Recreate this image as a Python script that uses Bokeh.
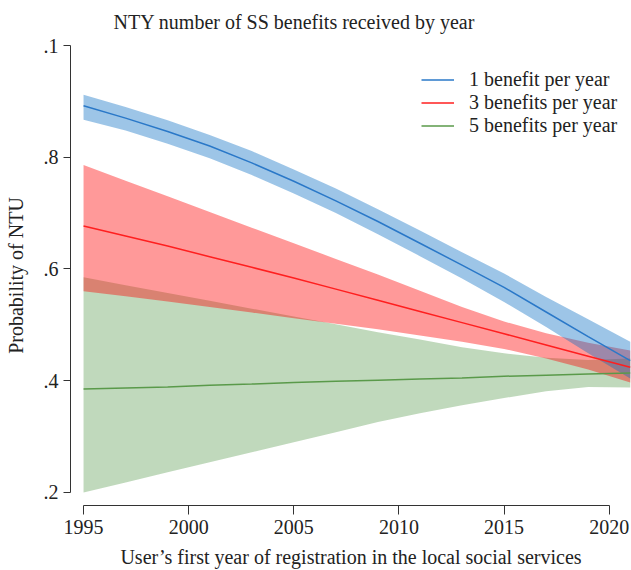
from bokeh.plotting import figure
from bokeh.models import Range1d, FixedTicker, Legend, LegendItem
from bokeh.embed import file_html
from bokeh.resources import INLINE

# Predicted probability of NTU by first year of registration, with 95% bands
years = [1995, 1997, 1999, 2001, 2003, 2005, 2007, 2009, 2011, 2013, 2015, 2017, 2019, 2021]

b1_mid = [0.892, 0.870, 0.846, 0.820, 0.790, 0.757, 0.722, 0.685, 0.646, 0.607, 0.567, 0.523, 0.479, 0.436]
b1_hi = [0.912, 0.890, 0.866, 0.840, 0.811, 0.778, 0.744, 0.707, 0.669, 0.630, 0.592, 0.550, 0.510, 0.470]
b1_lo = [0.867, 0.848, 0.824, 0.798, 0.768, 0.735, 0.700, 0.662, 0.623, 0.583, 0.541, 0.496, 0.449, 0.404]

b3_mid = [0.677, 0.659, 0.641, 0.622, 0.603, 0.584, 0.564, 0.544, 0.524, 0.504, 0.484, 0.464, 0.444, 0.424]
b3_hi = [0.786, 0.758, 0.730, 0.702, 0.674, 0.646, 0.618, 0.590, 0.561, 0.532, 0.506, 0.485, 0.468, 0.454]
b3_lo = [0.560, 0.551, 0.542, 0.532, 0.522, 0.512, 0.502, 0.492, 0.481, 0.470, 0.457, 0.440, 0.420, 0.397]

b5_mid = [0.385, 0.387, 0.389, 0.392, 0.394, 0.397, 0.399, 0.401, 0.403, 0.405, 0.408, 0.410, 0.412, 0.414]
b5_hi = [0.585, 0.571, 0.557, 0.543, 0.529, 0.515, 0.501, 0.487, 0.474, 0.460, 0.449, 0.441, 0.437, 0.440]
b5_lo = [0.200, 0.218, 0.236, 0.254, 0.272, 0.290, 0.308, 0.326, 0.342, 0.356, 0.369, 0.381, 0.389, 0.388]

series_labels = ["1 benefit per year", "3 benefits per year", "5 benefits per year"]
xticks = [1995, 2000, 2005, 2010, 2015, 2020]
yticks = [0.2, 0.4, 0.6, 0.8, 1.0]
ytick_labels = [".2", ".4", ".6", ".8", ".1"]

FONT = "Liberation Serif"
SIZE = "20px"
INK = "#222222"
BLUE, RED, GREEN = "#2a78c8", "#ff1f1f", "#5a9a4a"

p = figure(width=631, height=570, output_backend="svg", toolbar_location=None,
           x_range=Range1d(1994.38, 2021.06), y_range=Range1d(0.1767, 1.0),
           min_border_left=70, min_border_right=0, min_border_top=45, min_border_bottom=65,
           title="NTY number of SS benefits received by year")
p.outline_line_color = None
p.xgrid.visible = False
p.ygrid.visible = False

p.title.text_font = FONT
p.title.text_font_size = SIZE
p.title.text_font_style = "normal"
p.title.text_color = INK
p.title.align = "left"
p.title.offset = 43
p.title.vertical_align = "top"
p.title.standoff = 21

# confidence bands
p.varea(x=years, y1=b5_lo, y2=b5_hi, fill_color="#61a057", fill_alpha=0.4)
p.varea(x=years, y1=b3_lo, y2=b3_hi, fill_color="#ff0000", fill_alpha=0.4)
p.varea(x=years, y1=b1_lo, y2=b1_hi, fill_color="#0a6fc4", fill_alpha=0.4)

# point predictions
l1 = p.line(years, b1_mid, line_color=BLUE, line_width=1.5)
l3 = p.line(years, b3_mid, line_color=RED, line_width=1.5)
l5 = p.line(years, b5_mid, line_color=GREEN, line_width=1.5)

for ax in (p.xaxis[0], p.yaxis[0]):
    ax.axis_line_color = "#333333"
    ax.major_tick_line_color = "#333333"
    ax.minor_tick_line_color = None
    ax.major_tick_in = 0
    ax.major_label_text_font = FONT
    ax.major_label_text_font_size = SIZE
    ax.major_label_text_color = INK
    ax.axis_label_text_font = FONT
    ax.axis_label_text_font_size = SIZE
    ax.axis_label_text_font_style = "normal"
    ax.axis_label_text_color = INK

p.xaxis.ticker = FixedTicker(ticks=xticks)
p.xaxis.bounds = (xticks[0], xticks[-1])
p.xaxis.major_tick_out = 9
p.xaxis.major_label_standoff = 5
p.xaxis.axis_label = "User\u2019s first year of registration in the local social services"
p.xaxis.axis_label_standoff = 9

p.yaxis.ticker = FixedTicker(ticks=yticks)
p.yaxis.bounds = (yticks[0], yticks[-1])
p.yaxis.major_label_overrides = {t: s for t, s in zip(yticks, ytick_labels)}
p.yaxis.major_label_orientation = "horizontal"
p.yaxis.major_tick_out = 7
p.yaxis.major_label_standoff = 5
p.yaxis.axis_label = "Probability of NTU"
p.yaxis.axis_label_standoff = 14

legend = Legend(items=[LegendItem(label=series_labels[0], renderers=[l1]),
                       LegendItem(label=series_labels[1], renderers=[l3]),
                       LegendItem(label=series_labels[2], renderers=[l5])],
                location=(351, 368), border_line_color=None, background_fill_alpha=0,
                padding=0, margin=0, spacing=-2, glyph_width=33, glyph_height=21,
                label_height=21, label_standoff=15,
                label_text_font=FONT, label_text_font_size=SIZE, label_text_color=INK)
p.add_layout(legend)

open("out.html", "w").write(file_html(p, INLINE))
